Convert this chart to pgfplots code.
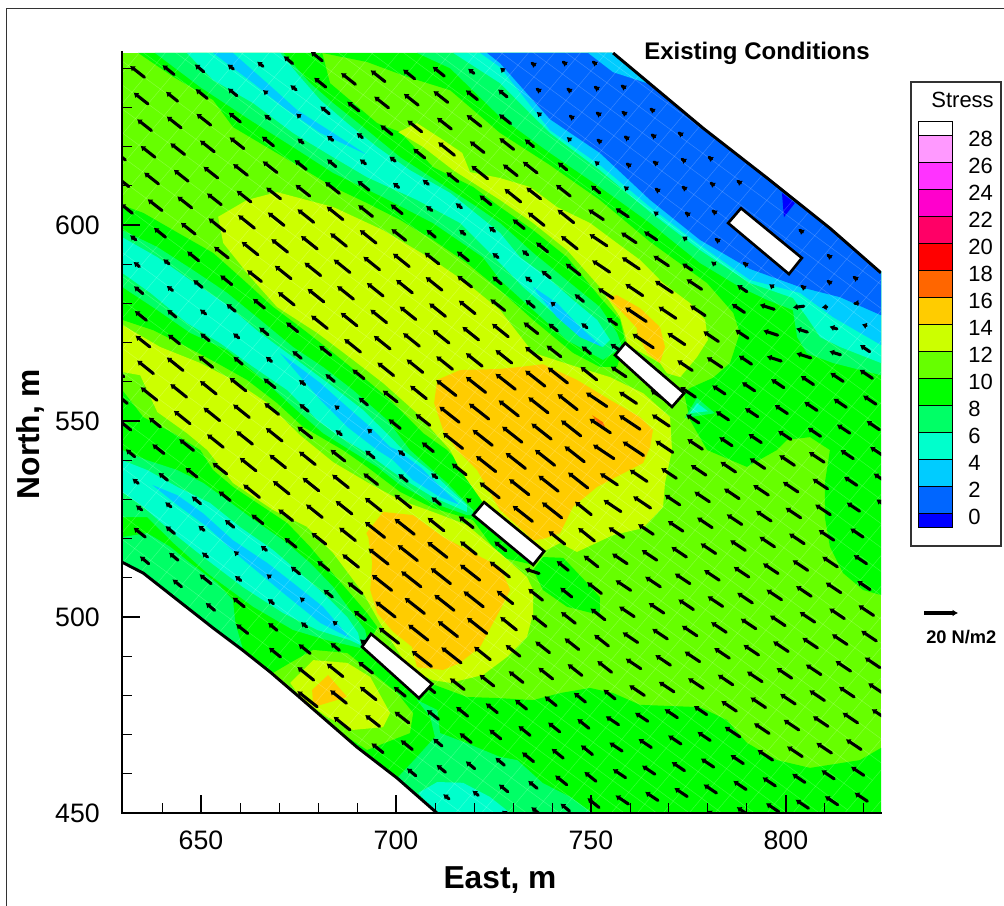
\documentclass[border=0pt]{standalone}
\usepackage{fontspec}
\setmainfont{Liberation Sans}
\usepackage{pgfplots}
\pgfplotsset{compat=1.18}
\usetikzlibrary{arrows.meta}
\definecolor{cA}{HTML}{0000FF}\definecolor{cB}{HTML}{0066FF}\definecolor{cC}{HTML}{00CCFF}
\definecolor{cT}{HTML}{00FFCC}\definecolor{cS}{HTML}{00FF66}\definecolor{cG}{HTML}{00FF00}
\definecolor{cL}{HTML}{66FF00}\definecolor{cY}{HTML}{CCFF00}\definecolor{cO}{HTML}{FFCC00}
\definecolor{cR}{HTML}{FF6600}
\begin{document}
\begin{tikzpicture}
\path[use as bounding box] (-91.5pt,-69.75pt) rectangle (661.5pt,609.75pt);
\draw[line width=0.7pt,black!80] (-87pt,-69.75pt) -- (-87pt,603.75pt) -- (661.5pt,603.75pt);
\begin{axis}[at={(0,0)},anchor=south west,scale only axis,width=569.25pt,height=570pt,
 xmin=629.74,xmax=824.4,ymin=450,ymax=643.9,
 axis lines*=left,axis line style={-},axis on top,
 tick align=inside,xtick={650,700,750,800},ytick={450,500,550,600},
 minor xtick={640,660,670,680,690,710,720,730,740,760,770,780,790,810,820},
 minor ytick={460,470,480,490,510,520,530,540,560,570,580,590,610,620,630,640},
 major tick length=13.5pt,minor tick length=7.5pt,
 major tick style={black,line width=1.6pt},minor tick style={black,line width=0.6pt},
 /pgf/number format/assume math mode=true,
 tick label style={font=\fontsize{20}{24}\selectfont,inner sep=0pt},
 xticklabel style={yshift=-13pt},yticklabel style={xshift=-16.5pt},
]
\addplot[fill=cL,draw=none,forget plot] coordinates {(629.74,643.9)(629.74,450)(824.4,450)(824.4,643.9)} -- cycle;
% valley A
\addplot[fill=cG,draw=none] coordinates {(681.1,643.9)(683.1,636.2)(688.2,631.9)(695.2,626)(701.1,623.7)(709.5,614.8)(719.8,609.7)(726.7,604.6)(735.2,598.7)(743.9,591.8)(752.3,581.6)(757.5,575.8)(758.8,570.2)(756.7,563.8)(752.3,563.8)(745.4,567.4)(735.2,575.8)(726.7,583.4)(718.2,590.3)(709.5,596.2)(701.1,601.3)(692.6,605.6)(683.9,609.7)(671.1,617.4)(658.2,625)(653.1,631.9)(642.9,637.8)(633.9,643.9)} -- cycle;
\addplot[fill=cS,draw=none] coordinates {(671.1,643.9)(678,636.2)(683.9,631.1)(692.6,624.2)(701.1,617.3)(711.3,610.7)(720.8,604.6)(726.7,600.5)(735.2,592.9)(744.7,585.2)(752.3,579.1)(756.7,572.5)(758,568.9)(753.1,565.6)(743.9,570.6)(735.2,578.3)(726.7,586)(722.3,591.8)(709.5,600.5)(696.7,607.1)(683.9,613.3)(673.6,619.9)(662.6,626.8)(649.8,635.2)(638.2,643.9)} -- cycle;
\addplot[fill=cT,draw=none] coordinates {(670.3,643.9)(675.4,637.8)(680.6,631.9)(687.5,626)(695.2,619.9)(703.6,614)(713.9,608.2)(726.7,598)(731.8,591.8)(738.8,586.7)(745.4,580.9)(751.6,575.8)(754.9,570.7)(753.1,568.9)(746.4,572.5)(739.5,578.3)(732.6,584.2)(726.7,590.3)(716.5,600.5)(705.4,606.4)(692.6,612.2)(683.9,617.3)(673.6,623.5)(663.4,631.1)(653.1,637)(646.4,643.9)} -- cycle;
\addplot[fill=cC,draw=none] coordinates {(653.1,643.9)(658.2,643.9)(667,636.2)(674.7,629.3)(683.9,623.5)(692.6,617.9)(680.6,623.5)(671.1,630.1)(663.4,636.2)} -- cycle;
\addplot[fill=cC,draw=none] coordinates {(735.2,584.2)(741.3,580.1)(747.2,574)(752.9,568.9)(747.2,571.4)(741.3,576.5)(736.2,582.7)} -- cycle;
% top-right valley
\addplot[fill=cG,draw=none] coordinates {(681.1,643.9)(692.6,641.6)(702.9,637.8)(713.9,634.4)(726.7,623.5)(739.5,615.3)(752.3,606.4)(765.2,595.7)(779.8,585.2)(786.5,577.6)(788.2,572.5)(785.7,564.8)(781.3,561)(775.4,558.4)(773.9,557.1)(775.4,550.3)(779.8,542.6)(790,538.3)(797.7,542.6)(800.3,545.2)(806.2,545.9)(811.3,542.6)(810,534.2)(810,525.5)(811.3,517.9)(814.7,511.2)(819.8,506.9)(824.4,505.6)(824.4,643.9)} -- cycle;
\addplot[fill=cS,draw=none] coordinates {(705.4,643.9)(713.9,640)(726.7,627.6)(739.5,618.4)(752.3,609.7)(765.2,600.5)(778,590.3)(788.2,584.2)(795.2,580.9)(801.8,578.3)(802.9,571.4)(805.4,567.3)(812.1,564.8)(824.4,561.7)(824.4,643.9)} -- cycle;
\addplot[fill=cT,draw=none] coordinates {(714.7,643.9)(726.7,636.2)(739.5,623.5)(752.3,614)(765.2,603.3)(778,593.6)(790.8,585.2)(801.8,581.4)(805.4,576.5)(808.8,571.4)(813.9,568.9)(824.4,564.8)(824.4,643.9)} -- cycle;
\addplot[fill=cC,draw=none] coordinates {(721.6,643.9)(726.7,640.3)(739.5,624.2)(752.3,615.3)(765.2,604.6)(778,594.9)(790.8,586)(803.6,582.7)(812.1,576.5)(824.4,569.4)(824.4,643.9)} -- cycle;
\addplot[fill=cB,draw=none] coordinates {(723.4,643.9)(726.7,641.3)(739.5,627)(752.3,618.4)(765.2,606.4)(778,596.2)(790.8,588.8)(803.6,584.2)(813.9,581.6)(824.4,577)(824.4,643.9)} -- cycle;
\addplot[fill=cC,draw=none] coordinates {(749.3,643.9)(755.7,643.9)(764.4,636.2)(755.7,639)} -- cycle;
\addplot[fill=cA,draw=none] coordinates {(799,608.2)(802.3,605.6)(799.5,602)} -- cycle;
\addplot[fill=cS,draw=none] coordinates {(774.1,550.8)(777.2,555.9)(781.8,552)} -- cycle;
\addplot[fill=cT,draw=none] coordinates {(775.4,552)(777.2,554.6)(780,552.5)} -- cycle;
% valley B
\addplot[fill=cG,draw=none] coordinates {(629.8,605.1)(635.2,603.1)(642.9,598.7)(653.1,592.9)(660.1,586.7)(668.5,579.1)(675.4,574)(683.9,567.4)(691.6,561.2)(698.5,555.4)(707,546.9)(713.1,542.6)(718.2,537.5)(722.3,530.6)(735.2,513.3)(726.7,515.3)(719.8,524.7)(709.5,527.8)(701.1,531.9)(692.6,538.3)(686.4,542.6)(676.2,548.5)(669.5,554.6)(661.8,560.5)(654.1,564.8)(646.4,568.9)(637.7,573.2)(629.8,575.8)} -- cycle;
\addplot[fill=cS,draw=none] coordinates {(629.8,598.7)(638.8,594.4)(648,588.5)(656.7,582.7)(665.2,575.8)(673.6,568.9)(681.3,563.8)(689,557.9)(697.7,550.3)(703.6,542.6)(713.1,534.2)(719.8,527.3)(719.8,526)(718.2,526)(709.5,529.1)(701.1,533.7)(695.2,538.3)(688.2,542.6)(681.3,546.9)(673.6,553.6)(665.2,561.2)(656.7,568.1)(647.2,572.5)(638.8,578.3)(629.8,584.2)} -- cycle;
\addplot[fill=cT,draw=none] coordinates {(629.8,596.9)(638.8,591.8)(647.2,586)(656.7,579.6)(665.2,572.4)(673.6,566.3)(683.9,558.7)(691.6,552.8)(699.3,545.2)(701.8,542.6)(709.5,536.7)(718.2,528.6)(718.2,526.8)(709.5,530.6)(701.1,535.7)(692.6,541.8)(685.7,545.9)(679.8,550.3)(672.1,557.9)(663.4,563.8)(654.9,569.9)(646.4,575)(637,582.7)(629.8,587.8)} -- cycle;
\addplot[fill=cC,draw=none] coordinates {(670.3,567.3)(676.2,563)(680.6,559.7)(687.5,553.6)(693.4,548.5)(698.5,543.4)(700.3,542.6)(706.2,538.3)(713.1,531.6)(716.4,528.6)(711.3,530.6)(704.4,534.9)(699.3,540)(695.2,542.6)(687.5,548.5)(680.6,555.4)(674.7,562.2)} -- cycle;
\addplot[fill=cG,draw=none] coordinates {(735.2,512)(737.7,515.3)(742.9,515.1)(749,508.7)(752.3,505.1)(752.3,500.5)(743.9,502.6)(737.7,506.9)} -- cycle;
% valley C and lower green
\addplot[fill=cG,draw=none] coordinates {(629.8,557.9)(635.2,551)(642.9,546.9)(649.8,542.6)(653.1,537.5)(658.2,533.2)(665.9,528.1)(672.1,524)(678,517.9)(682.3,512.8)(687.5,506.9)(692.6,501)(695.2,497.5)(694.1,494.9)(709.3,482.9)(718.2,479.6)(726.7,479.3)(735.2,478.8)(742.1,480.6)(749.8,481.9)(755.7,480.6)(762.6,477.6)(778,477)(784.9,473.7)(790,467.9)(797.7,463.5)(806.2,461.5)(819,463.5)(824.4,466.6)(824.4,450)(710.5,450)(700.3,458.9)(690,466.8)(674.6,480.1)(667.7,486)(660.6,491.6)(653.1,497.2)(635.2,511.2)(629.8,514)} -- cycle;
\addplot[fill=cS,draw=none] coordinates {(629.8,520.4)(636.2,521.4)(642.1,517.9)(647.2,513.8)(654.1,508.7)(658.2,504.3)(658.8,498.5)(660.8,491.6)(653.1,497.2)(635.2,511.2)(629.8,514)} -- cycle;
\addplot[fill=cS,draw=none] coordinates {(629.8,542.6)(636.2,540)(643.9,537.5)(650.6,534.2)(656.7,529.8)(664.4,524.2)(671.1,519.6)(678,513.8)(683.9,507.7)(688.2,501.8)(692.1,496.7)(692.6,494.1)(690.8,492.1)(682.3,494.1)(673.6,496.7)(663.4,502.6)(651.6,511.2)(642.9,518.9)(636.2,525.5)(629.8,525.5)} -- cycle;
\addplot[fill=cT,draw=none] coordinates {(629.8,540)(636.2,537.5)(643.9,533.2)(652.3,529.1)(660.1,522.9)(668.5,517.1)(675.4,511.2)(681.3,506.1)(687.5,500)(690.3,495.9)(690.8,493.4)(690.8,492.9)(688.2,494.1)(679.8,496.7)(671.1,501)(660.8,507.6)(650.6,515.3)(642.9,521.4)(635.2,528.1)(629.8,531.9)} -- cycle;
\addplot[fill=cC,draw=none] coordinates {(637.5,533.7)(643.9,531.1)(650.6,526.4)(658.2,519.6)(667,513.8)(673.6,508.7)(681.3,502.6)(688.2,494.6)(680.6,498.5)(671.1,506.1)(660,515.3)(651.6,523)(643.9,528.6)} -- cycle;
\addplot[fill=cS,draw=none] coordinates {(705.4,478.8)(710.6,476.3)(711.3,470.4)(718.2,467.8)(726.7,464.3)(731.1,463.5)(737.7,457.6)(744.7,454.1)(750.3,450)(710.5,450)(700.3,458.9)(705.4,464.3)(710,469.4)(708.8,474.5)} -- cycle;
\addplot[fill=cT,draw=none] coordinates {(705.7,455.1)(710.6,457.9)(717.2,457.7)(724.1,454.1)(729.3,450)(710.5,450)} -- cycle;
% hills
\addplot[fill=cY,draw=none] coordinates {(700.6,623.7)(705.4,626)(712.1,621.7)(717,618.4)(719,613.5)(726.7,612)(734.4,609.7)(741.3,604.6)(749.8,600.5)(756.7,595.4)(762.6,591.1)(768.5,585.2)(775.4,580.1)(779.3,575.8)(780,570.7)(777.2,566.3)(772.9,561.2)(769.5,562.2)(767.7,564.8)(759.5,569.4)(757.5,576.5)(752.3,584.2)(743.9,593.6)(735.2,600.5)(726.7,606.4)(714.7,614)(707,619.9)} -- cycle;
\addplot[fill=cO,draw=none] coordinates {(754.1,581.6)(756.7,582.1)(762.6,578.8)(767.7,574)(769,568.9)(767.7,564.8)(764.4,567.4)(761.8,572.5)(761.8,573.7)(757.5,578.3)} -- cycle;
\addplot[fill=cY,draw=none] coordinates {(654.4,602.1)(661.8,606.4)(669.5,608.4)(683.9,604.6)(696.7,598.7)(709.5,591.1)(718.2,585.2)(726.7,578.3)(735.2,567.4)(746.4,563.8)(754.9,561.2)(763.4,557.1)(770.3,551)(770.8,542.6)(769,534.2)(768.5,528.1)(763.4,522.7)(755.7,520.9)(746.4,516.6)(742.1,518.9)(737.7,516.6)(729.3,522.2)(722.3,529.3)(716.5,537.5)(713.9,542.6)(705.4,552)(696.7,559.7)(689,565.6)(679.8,572.5)(669.5,579.1)(662.6,586.8)(655.7,595.4)} -- cycle;
\addplot[fill=cO,draw=none] coordinates {(710.6,560.5)(716.4,563)(726.7,563.3)(731.8,563.8)(737.7,564.5)(746.4,560.5)(754.9,555.4)(762.6,551)(765.9,547.7)(765.2,543.4)(763.4,539.3)(751.6,533.2)(745.4,528.1)(742.1,521.4)(737.7,519.9)(735.2,519.6)(726.7,527.3)(725.9,528.6)(720.8,537.5)(715.7,542.6)(712.1,547.7)(709.8,554.6)} -- cycle;
\addplot[fill=cR,draw=none] coordinates {(750.3,551.5)(753.1,549.7)(753.6,548.5)(751.8,549.5)} -- cycle;
\addplot[fill=cY,draw=none] coordinates {(629.8,574.5)(639.5,568.9)(649.8,564.8)(658.2,560.5)(667,554.6)(675.4,546.4)(683.9,539.5)(692.6,534.4)(701.1,529.8)(709.5,526.8)(718.2,523.5)(726.7,516.3)(733.6,510.2)(735.2,506.9)(735.2,501)(733.6,494.9)(728.5,489.8)(722.3,485.2)(713.9,483.2)(709.5,483.9)(703.6,486.5)(700.3,491.6)(695.9,498.5)(691.6,506.1)(683.9,516.3)(677.2,523)(668.5,527.3)(658.2,534.2)(651.6,542.6)(646.4,546.9)(638.8,552.3)(634.4,561.7)(629.8,562.5)} -- cycle;
\addplot[fill=cO,draw=none] coordinates {(692.4,521.4)(696.7,526.8)(704.4,526)(712.1,520.4)(719.8,516.3)(726.7,512.8)(729.3,506.9)(726.7,501.8)(721.6,492.4)(716.4,488.3)(712.1,486.5)(705.4,487.2)(704.1,492.4)(699.3,496.2)(695.2,501)(693.4,506.9)(693.9,513.8)(692.9,520.4)} -- cycle;
\addplot[fill=cL,draw=none] coordinates {(668.5,485.7)(672.9,488.3)(678.8,491.6)(687.5,490.8)(695.2,484.7)(700.3,480.6)(704.4,475.5)(703.6,470.4)(692.6,466.1)(687.5,469.4)(674.6,480.1)} -- cycle;
\addplot[fill=cY,draw=none] coordinates {(672.9,483.2)(678.8,489)(687.5,488.3)(693.4,484.7)(698.5,475.5)(696.7,471.9)(689,471.2)(682.3,474.5)(675.4,479.6)} -- cycle;
\addplot[fill=cO,draw=none] coordinates {(678.5,481.4)(682.6,485.2)(687.5,479.6)(678.8,477)} -- cycle;
% faint mesh lines
\pgfplotsinvokeforeach{-21,...,21}{\draw[white,opacity=0.22,line width=0.35pt] ({636.4+#1*3.2-205},{630.9+#1*3.76+150}) -- ({636.4+#1*3.2+205},{630.9+#1*3.76-150});}
\pgfplotsinvokeforeach{-3,...,51}{\draw[white,opacity=0.22,line width=0.35pt] ({636.4+#1*4.1-160},{630.9-#1*3.0-188}) -- ({636.4+#1*4.1+160},{630.9-#1*3.0+188});}
% outside of the domain
\addplot[fill=white,draw=none] coordinates {(625,514)(629.74,514)(635.2,511.2)(653.1,497.2)(660.6,491.6)(667.7,486)(674.6,480.1)(690,466.8)(700.3,458.9)(710.5,450)(716,445)(625,445)} -- cycle;
\addplot[fill=white,draw=none] coordinates {(750,648.6)(755.7,643.9)(778.8,624.7)(795.2,612)(811.3,599.2)(824.4,587.8)(830,583)(830,650)} -- cycle;
% stress vectors
\addplot[black,quiver={u=\thisrow{u},v=\thisrow{v},every arrow/.append style={line width=2.3pt,-{Latex[length=3.5pt,width=5pt]},line cap=round}}] table {
x y u v
635.5 637.7 -3.7 2.9
643.1 638.4 -3 2.4
650.7 639.1 -2.3 1.9
658.3 639.8 -1.5 1.2
665.9 640.5 -1.5 1.2
673.5 641.2 -2.3 1.9
681.1 641.9 -3 2.4
636.4 630.9 -3.7 2.9
644 631.6 -3 2.4
651.6 632.3 -3 2.4
659.2 633 -2.3 1.9
666.8 633.7 -.9 .75
674.4 634.5 -1.5 1.2
682 635.2 -3 2.4
689.6 635.9 -3.7 2.9
697.2 636.6 -3.7 2.9
704.8 637.3 -3 2.4
712.4 638 -3 2.4
720 638.7 -1.5 1.2
727.6 639.4 -.9 .75
734.9 641.3 -.2 .15
742.9 641.6 -.2 .15
750.6 641.6 -.2 .15
637.3 624.1 -3.7 2.9
644.9 624.8 -3.7 2.9
652.5 625.5 -3.7 2.9
660.1 626.3 -3 2.4
667.7 627 -1.5 1.2
675.3 627.7 -.9 .75
682.9 628.4 -2.3 1.9
690.5 629.1 -3 2.4
698.1 629.9 -3.7 2.9
705.7 630.6 -3.7 2.9
713.3 631.3 -3.7 2.9
720.9 632 -3 2.4
728.5 632.7 -2.3 1.9
736.2 634.7 -.2 .15
744.1 634.7 -.2 .15
751.1 635.2 -.2 .15
758 635.5 -.2 .15
630.6 616.6 -3.7 2.9
638.2 617.3 -3.7 2.9
645.8 618 -3.7 2.9
653.4 618.7 -3.7 2.9
661 619.5 -3.7 2.9
668.6 620.2 -3 2.4
676.2 620.9 -1.5 1.2
683.8 621.6 -1.5 1.2
691.4 622.3 -1.5 1.2
699 623.1 -3 2.4
706.6 623.8 -3.7 2.9
714.2 624.5 -3.7 2.9
721.8 625.2 -3.7 2.9
729.4 625.9 -3 2.4
737 628.1 -.9 .75
744.7 627.8 -.2 .15
751.6 628.6 -.2 .15
758.2 628.8 -.2 .15
765.4 629.6 -.2 .15
631.5 609.8 -3.7 2.9
639.1 610.5 -3.7 2.9
646.7 611.2 -3.7 2.9
654.3 612 -3.7 2.9
661.9 612.7 -3.7 2.9
669.5 613.4 -3.7 2.9
677 614.2 -3 2.4
684.6 614.9 -2.3 1.9
692.2 615.6 -1.5 1.2
699.8 616.3 -1.5 1.2
707.4 617.1 -3 2.4
715 617.8 -4.2 3.35
722.6 618.5 -3.7 2.9
730.2 619.3 -3.7 2.9
735.3 620 -2.3 1.9
744.7 621.7 -.9 .75
751.8 621.7 -.2 .15
758.8 622.5 -.2 .15
765.7 623 -.2 .15
772.6 623.5 -.2 .15
632.4 603 -3 2.4
640 603.7 -3.7 2.9
647.6 604.4 -3.7 2.9
655.2 605.2 -3.7 2.9
662.8 605.9 -3.7 2.9
670.4 606.7 -3.7 2.9
677.9 607.4 -3.7 2.9
685.5 608.1 -3.7 2.9
693.1 608.9 -3 2.4
700.7 609.6 -1.5 1.2
708.3 610.4 -1.5 1.2
715.9 611.1 -3 2.4
723.5 611.8 -4.2 3.35
731.1 612.6 -3.7 2.9
736.2 613.3 -3.7 2.9
743.8 614.1 -2.3 1.9
751.8 615.6 -.9 .75
759.3 615.6 -.2 .15
766.2 616.1 -.2 .15
773.4 616.8 -.2 .15
780.3 617.3 -.2 .15
633.3 596.2 -1.5 1.2
640.9 596.9 -3 2.4
648.5 597.7 -3.7 2.9
656.1 598.4 -4.2 3.35
663.7 599.2 -4.2 3.35
671.3 599.9 -4.2 3.35
678.9 600.7 -4.2 3.35
686.4 601.4 -4.2 3.35
694 602.2 -3.7 2.9
701.6 602.9 -3 2.4
709.2 603.7 -1.5 1.2
716.8 604.4 -1.5 1.2
724.4 605.2 -3 2.4
732 605.9 -4.2 3.35
737.1 606.7 -3.7 2.9
744.7 607.4 -3.7 2.9
752.3 608.2 -2.3 1.9
759.3 609.2 -.9 .75
766.7 609.2 -.2 .15
773.6 609.7 -.2 .15
780.8 610.7 -.2 .15
787.7 611.2 -.2 .15
634.2 589.4 -1.5 1.2
641.8 590.1 -1.5 1.2
649.4 590.9 -3 2.4
657 591.6 -3.7 2.9
664.6 592.4 -4.2 3.35
672.2 593.1 -4.2 3.35
679.8 593.9 -4.2 3.35
687.3 594.6 -4.2 3.35
694.9 595.4 -4.2 3.35
702.5 596.1 -3.7 2.9
710.1 596.9 -2.3 1.9
717.7 597.6 -1.5 1.2
725.3 598.4 -1.5 1.2
732.9 599.1 -3 2.4
738 599.9 -4.2 3.35
745.6 600.6 -4.2 3.35
753.2 601.4 -3.9 2.6
759.6 602.1 -3.3 2.2
767 602.8 -1 .7
774.4 603.1 -.2 .15
781.3 603.6 -.2 .15
635.1 582.5 -2.3 1.9
642.7 583.3 -1.5 1.2
650.3 584.1 -2.3 1.9
657.9 584.8 -3 2.4
665.5 585.6 -3.7 2.9
673.1 586.3 -4.2 3.35
680.7 587.1 -4.2 3.35
688.2 587.9 -4.2 3.35
695.8 588.6 -4.2 3.35
703.4 589.4 -4.2 3.35
711 590.1 -3.7 2.9
718.6 590.9 -3 2.4
726.2 591.7 -1.5 1.2
733.8 592.4 -1.5 1.2
738.9 593.2 -3 2.4
746.5 593.9 -4.2 3.35
754.1 594.7 -4.5 3
761.6 595.5 -3.9 2.6
766.9 596.2 -3.3 2.2
774.4 596.4 -1 .7
782.1 596.4 -.2 .15
803.6 598.7 -.2 .15
636 575.7 -3 2.4
643.6 576.5 -2.3 1.9
651.2 577.3 -1.5 1.2
658.8 578 -2.3 1.9
666.3 578.8 -3 2.4
673.9 579.6 -4.2 3.35
681.5 580.4 -4.2 3.35
689.1 581.1 -4.2 3.35
696.7 581.9 -4.2 3.35
704.2 582.7 -4.2 3.35
711.8 583.4 -4.2 3.35
719.4 584.2 -3.7 2.9
727 585 -2.3 1.9
734.6 585.7 -1.5 1.2
739.6 586.5 -2.3 1.9
747.2 587.3 -3.7 2.9
754.8 588 -4.5 3
762.4 588.8 -4.5 3
769.9 589.6 -3.9 2.6
775.9 588.5 -2.5 1.7
781.8 590 -1 .7
789.3 590.3 -.2 .15
810.8 592.3 -.2 .15
636.9 568.9 -3.7 2.9
644.5 569.7 -3 2.4
652.1 570.5 -2.3 1.9
659.7 571.2 -1.5 1.2
667.2 572 -2.3 1.9
674.8 572.8 -3 2.4
682.4 573.6 -4.2 3.35
690 574.3 -4.2 3.35
697.6 575.1 -4.2 3.35
705.1 575.9 -4.2 3.35
712.7 576.7 -4.2 3.35
720.3 577.4 -4.2 3.35
727.9 578.2 -3.7 2.9
735.5 579 -2.3 1.9
740.5 579.7 -.9 .75
748.1 580.5 -2.3 1.9
755.7 581.3 -3.9 2.6
763.3 582 -4.5 3
770.9 582.8 -4.5 3
778.4 583.6 -3.9 2.6
790 583 -2.5 1.7
796.7 584.2 -1 .7
804.1 584.4 -.2 .15
810.8 585.7 -.2 .15
817.5 586.7 -.2 .15
630.2 561.3 -3.7 2.9
637.8 562.1 -4.2 3.35
645.4 562.9 -4.2 3.35
653 563.7 -3.7 2.9
660.6 564.5 -2.3 1.9
668.1 565.2 -1.5 1.2
675.7 566 -2.3 1.9
683.3 566.8 -3 2.4
690.9 567.6 -4.2 3.35
698.5 568.4 -4.2 3.35
706 569.1 -4.2 3.35
713.6 569.9 -4.2 3.35
721.2 570.7 -4.2 3.35
728.8 571.5 -4.2 3.35
736.4 572.3 -3.7 2.9
741.4 573 -2.3 1.9
749 573.8 -1.5 1.2
756.6 574.6 -2.5 1.7
764.2 575.4 -5.4 3.6
771.8 576.2 -4.5 3
779.3 576.9 -3.9 2.6
789.4 577.7 -3.3 2.2
797 578.5 -3.7 1.2
804.6 579.3 -2.8 -.35
810.5 579.1 -1.3 -.1
817.7 580.1 -.3 0
631.1 554.5 -3 2.4
638.7 555.3 -4.2 3.35
646.3 556.1 -4.2 3.35
653.9 556.9 -4.2 3.35
661.5 557.7 -4.2 3.35
669 558.5 -3 2.4
676.6 559.3 -1.5 1.2
684.2 560.1 -2.3 1.9
691.8 560.8 -3 2.4
699.4 561.6 -4.2 3.35
706.9 562.4 -4.2 3.35
714.5 563.2 -4.2 3.35
722.1 564 -4.2 3.35
729.7 564.8 -4.2 3.35
737.3 565.6 -4.2 3.35
742.3 566.4 -3.7 2.9
749.9 567.2 -2.3 1.9
757.5 568 -2.5 1.7
766 568.7 -5.4 3.6
774.1 569.5 -4.5 3
782.7 570.3 -3.9 2.6
790.3 571.1 -3.3 2.2
797.9 571.9 -3.7 1.2
805.5 572.7 -2.85 .9
813.1 573.5 -1.9 .6
820.6 574.3 -1.1 .35
632 547.7 -3 2.4
639.6 548.5 -3 2.4
647.2 549.3 -4.2 3.35
654.8 550.1 -4.2 3.35
662.4 550.9 -4.2 3.35
669.9 551.7 -3.7 2.9
677.5 552.5 -2.3 1.9
685.1 553.3 -.9 .75
692.7 554.1 -2.3 1.9
700.3 554.9 -3.7 2.9
707.8 555.7 -4.2 3.35
715.4 556.5 -5.1 4
723 557.3 -5.1 4
730.6 558.1 -5.1 4
738.2 558.9 -5.1 4
744 559.7 -5.1 4
751.5 560.5 -4.2 3.35
759 561.3 -3.9 2.6
768 562.1 -4.5 3
776 562.9 -3.9 2.6
783.6 563.7 -3.9 2.6
791.2 564.5 -3.3 2.2
798.8 565.3 -3.7 1.2
806.4 566.1 -3.7 1.2
814 566.9 -2.85 .9
821.5 567.7 -2.5 1.7
633 540.9 -2.3 1.9
640.5 541.7 -3 2.4
648.1 542.5 -3.7 2.9
655.7 543.3 -4.2 3.35
663.2 544.1 -4.2 3.35
670.8 544.9 -4.2 3.35
678.4 545.7 -3.7 2.9
686 546.5 -1.5 1.2
693.5 547.3 -.9 .75
701.1 548.1 -3 2.4
708.7 548.9 -3.7 2.9
716.2 549.7 -5.1 4
723.8 550.5 -5.1 4
731.4 551.3 -5.1 4
739 552.1 -5.1 4
746.5 552.9 -5.1 4
754.1 553.7 -5.4 3.6
761.7 554.5 -4.5 3
769.2 555.3 -3.9 2.6
776.8 556.1 -3.9 2.6
784.4 556.9 -3.3 2.2
792 557.7 -3.3 2.2
799.5 558.5 -3.3 2.2
807.1 559.3 -3.3 2.2
814.7 560.1 -3.3 2.2
822.2 560.9 -3.3 2.2
633.9 534.1 -1.5 1.2
641.4 534.9 -2.3 1.9
649 535.7 -3 2.4
656.6 536.5 -3.7 2.9
664.1 537.3 -4.2 3.35
671.7 538.1 -4.2 3.35
679.3 538.9 -4.2 3.35
686.9 539.8 -3.7 2.9
694.4 540.6 -2.3 1.9
702 541.4 -1.5 1.2
709.6 542.2 -3 2.4
717.1 543 -5.1 4
724.7 543.8 -5.1 4
732.3 544.6 -5.1 4
739.8 545.4 -5.1 4
747.4 546.2 -5.1 4
755 547 -5.4 3.6
762.6 547.9 -5.4 3.6
770.1 548.7 -4.5 3
777.7 549.5 -3.3 2.2
785.3 550.3 -3.3 2.2
792.8 551.1 -3.3 2.2
800.4 551.9 -3.3 2.2
808 552.7 -3.3 2.2
815.5 553.5 -3.3 2.2
823.1 554.3 -3.3 2.2
634.8 527.3 -1.5 1.2
642.3 528.1 -1.5 1.2
649.9 528.9 -2.3 1.9
657.5 529.7 -3 2.4
665 530.5 -4.2 3.35
672.6 531.4 -4.2 3.35
680.2 532.2 -4.2 3.35
687.8 533 -4.2 3.35
695.3 533.8 -3.7 2.9
702.9 534.6 -2.3 1.9
710.5 535.5 -1.5 1.2
718 536.3 -3.7 2.9
725.6 537.1 -5.1 4
733.2 537.9 -5.1 4
740.7 538.7 -5.1 4
748.3 539.6 -5.1 4
755.9 540.4 -5.4 3.6
763.5 541.2 -5.4 3.6
771 542 -4.5 3
778.6 542.8 -3.9 2.6
786.2 543.7 -3.3 2.2
793.7 544.5 -3.3 2.2
801.3 545.3 -3.3 2.2
808.9 546.1 -3.3 2.2
816.4 546.9 -3.3 2.2
824 547.8 -3.3 2.2
635.7 520.4 -3 2.4
643.2 521.3 -2.3 1.9
650.8 522.1 -1.5 1.2
658.4 522.9 -2.3 1.9
665.9 523.8 -3 2.4
673.5 524.6 -3.7 2.9
681.1 525.4 -4.2 3.35
688.7 526.3 -4.2 3.35
696.2 527.1 -4.2 3.35
703.8 527.9 -4.2 3.35
711.4 528.7 -2.3 1.9
718.9 529.6 -.9 .75
726.5 530.4 -5.1 4
734.1 531.2 -5.1 4
741.6 532.1 -5.1 4
749.2 532.9 -5.1 4
756.8 533.7 -4.5 3
764.4 534.6 -4.5 3
771.9 535.4 -3.9 2.6
779.5 536.2 -3.9 2.6
787.1 537 -3.9 2.6
794.6 537.9 -3.9 2.6
802.2 538.7 -3.9 2.6
809.8 539.5 -3.9 2.6
817.3 540.4 -3.3 2.2
824.9 541.2 -3.3 2.2
636.6 513.6 -2.3 1.9
644.1 514.5 -2.3 1.9
651.7 515.3 -1.5 1.2
659.3 516.1 -.9 .75
666.8 517 -1.5 1.2
674.4 517.8 -3 2.4
682 518.6 -3.7 2.9
689.6 519.5 -4.2 3.35
697.1 520.3 -5.1 4
704.7 521.1 -5.1 4
712.3 522 -4.2 3.35
719.8 522.8 -3.7 2.9
727.4 523.6 -3 2.4
735 524.4 -5.1 4
742.5 525.3 -5.1 4
750.1 526.1 -4.2 3.35
757.7 526.9 -4.5 3
765.3 527.8 -4.5 3
772.8 528.6 -3.9 2.6
780.4 529.4 -3.9 2.6
788 530.2 -3.9 2.6
795.5 531.1 -3.9 2.6
803.1 531.9 -3.9 2.6
810.7 532.7 -3.9 2.6
818.2 533.6 -3.3 2.2
825.8 534.4 -3.3 2.2
645 507.7 -2.3 1.9
652.6 508.5 -3 2.4
660.2 509.3 -1.5 1.2
667.7 510.2 -.9 .75
675.3 511 -2.3 1.9
682.8 511.9 -3 2.4
690.4 512.7 -4.2 3.35
698 513.5 -5.1 4
705.5 514.4 -5.1 4
713.1 515.2 -5.1 4
720.6 516 -4.2 3.35
728.2 516.9 -3 2.4
735.8 517.7 -3 2.4
743.3 518.6 -4.2 3.35
750.9 519.4 -4.2 3.35
758.4 520.3 -3.9 2.6
766 521.1 -3.9 2.6
773.6 521.9 -3.9 2.6
781.1 522.8 -3.9 2.6
788.7 523.6 -3.9 2.6
796.2 524.5 -3.9 2.6
803.8 525.3 -3.9 2.6
811.4 526.1 -3.9 2.6
818.9 527 -3.3 2.2
826.5 527.8 -3.3 2.2
653.5 501.7 -2.3 1.9
661.1 502.6 -3 2.4
668.6 503.4 -1.5 1.2
676.2 504.3 -.9 .75
683.7 505.1 -2.3 1.9
691.3 506 -3.7 2.9
698.9 506.8 -5.1 4
706.4 507.7 -5.1 4
714 508.5 -5.1 4
721.5 509.4 -5.1 4
729.1 510.2 -5.1 4
736.7 511.1 -3.7 1.2
744.2 511.9 -3 2.4
751.8 512.8 -3.7 2.9
759.3 513.6 -3.9 2.6
766.9 514.5 -3.9 2.6
774.5 515.3 -3.9 2.6
782 516.2 -3.9 2.6
789.6 517 -3.9 2.6
797.1 517.9 -3.9 2.6
804.7 518.7 -3.9 2.6
812.3 519.6 -3.9 2.6
819.8 520.4 -3.3 2.2
662 495.8 -3 2.4
669.5 496.6 -2.3 1.9
677.1 497.5 -1.5 1.2
684.6 498.3 -.9 .75
692.2 499.2 -3 2.4
699.8 500 -5.1 4
707.3 500.9 -5.1 4
714.9 501.7 -5.1 4
722.4 502.6 -5.1 4
730 503.4 -4.2 3.35
737.6 504.3 -3.7 2.9
745.1 505.1 -3 2.4
752.7 506 -3.7 2.9
760.2 506.8 -3.9 2.6
767.8 507.7 -3.9 2.6
775.4 508.5 -3.9 2.6
782.9 509.4 -3.9 2.6
790.5 510.2 -3.9 2.6
798 511.1 -3.9 2.6
805.6 511.9 -3.9 2.6
813.2 512.8 -3.9 2.6
820.7 513.6 -3.3 2.2
670.4 489.8 -3 2.4
678 490.7 -3 2.4
685.5 491.5 -2.3 1.9
693.1 492.4 -2.3 1.9
700.7 493.3 -5.1 4
708.2 494.1 -5.1 4
715.8 495 -5.1 4
723.3 495.8 -5.1 4
730.9 496.7 -4.2 3.35
738.5 497.6 -3.7 2.9
746 498.4 -3.7 2.9
753.6 499.3 -3.7 2.9
761.1 500.1 -3.9 2.6
768.7 501 -3.9 2.6
776.3 501.9 -3.9 2.6
783.8 502.7 -3.9 2.6
791.4 503.6 -3.9 2.6
798.9 504.4 -3.9 2.6
806.5 505.3 -3.9 2.6
814.1 506.2 -3.9 2.6
821.6 507 -3.3 2.2
678.9 483.9 -4.2 3.35
686.4 484.8 -4.2 3.35
694 485.7 -3.7 2.9
701.6 486.5 -4.2 3.35
709.1 487.4 -5.1 4
716.7 488.3 -5.1 4
724.2 489.1 -4.2 3.35
731.8 490 -3.7 2.9
739.4 490.9 -3.7 2.9
746.9 491.7 -3.7 2.9
754.5 492.6 -3.7 2.9
762 493.5 -3.9 2.6
769.6 494.4 -3.9 2.6
777.2 495.2 -3.9 2.6
784.7 496.1 -3.9 2.6
792.3 497 -3.9 2.6
799.8 497.8 -3.9 2.6
807.4 498.7 -3.9 2.6
815 499.6 -3.9 2.6
822.5 500.4 -3.9 2.6
679.8 477.1 -5.1 4
687.3 478 -4.2 3.35
694.9 478.9 -4.2 3.35
702.4 479.8 -3 2.4
710 480.7 -3 2.4
717.5 481.5 -3.7 2.9
725.1 482.4 -3.7 2.9
732.6 483.3 -3.7 2.9
740.2 484.2 -3.7 2.9
747.7 485.1 -3.7 2.9
755.3 485.9 -3.7 2.9
762.8 486.8 -3.9 2.6
770.4 487.7 -3.9 2.6
777.9 488.6 -3.9 2.6
785.5 489.5 -3.9 2.6
793 490.3 -3.9 2.6
800.6 491.2 -3.9 2.6
808.1 492.1 -3.9 2.6
815.7 493 -3.9 2.6
823.2 493.9 -3.9 2.6
688.2 471.2 -4.2 3.35
695.8 472.1 -3.7 2.9
703.3 473 -3.7 2.9
710.9 473.9 -3 2.4
718.4 474.7 -3 2.4
726 475.6 -3 2.4
733.5 476.5 -3 2.4
741.1 477.4 -3 2.4
748.6 478.3 -3 2.4
756.2 479.1 -3 2.4
763.7 480 -3.9 2.6
771.3 480.9 -3.9 2.6
778.8 481.8 -3.9 2.6
786.4 482.7 -3.9 2.6
793.9 483.5 -3.9 2.6
801.5 484.4 -3.9 2.6
809 485.3 -3.9 2.6
816.6 486.2 -3.9 2.6
824.1 487.1 -3.9 2.6
696.7 465.4 -3 2.4
704.2 466.2 -3 2.4
711.8 467.1 -2.3 1.9
719.3 468 -3 2.4
726.9 468.9 -3 2.4
734.4 469.8 -3 2.4
742 470.7 -3 2.4
749.5 471.6 -3 2.4
757.1 472.5 -3.3 2.2
764.6 473.4 -3.3 2.2
772.2 474.3 -3.3 2.2
779.7 475.1 -3.3 2.2
787.3 476 -3.9 2.6
794.8 476.9 -3.9 2.6
802.4 477.8 -3.9 2.6
809.9 478.7 -3.9 2.6
817.5 479.6 -3.9 2.6
825 480.5 -3.9 2.6
705.1 459.5 -2.3 1.9
712.7 460.4 -2.3 1.9
720.2 461.3 -2.3 1.9
727.8 462.2 -2.3 1.9
735.3 463.1 -3 2.4
742.9 464 -3 2.4
750.4 464.9 -3 2.4
758 465.8 -3.3 2.2
765.5 466.7 -3.3 2.2
773.1 467.6 -3.3 2.2
780.6 468.5 -3.3 2.2
788.2 469.4 -3.9 2.6
795.7 470.3 -3.9 2.6
803.3 471.2 -3.9 2.6
810.8 472.1 -3.9 2.6
818.4 473 -3.9 2.6
825.9 473.9 -3.9 2.6
713.6 453.6 -1.5 1.2
721.1 454.5 -1.5 1.2
728.7 455.4 -2.3 1.9
736.2 456.3 -2.3 1.9
743.8 457.2 -3 2.4
751.3 458.1 -3 2.4
758.9 459 -3.3 2.2
766.4 459.9 -3.3 2.2
774 460.8 -3.3 2.2
781.5 461.7 -3.3 2.2
789.1 462.6 -3.3 2.2
796.6 463.5 -3.9 2.6
804.2 464.4 -3.9 2.6
811.7 465.3 -3.9 2.6
819.3 466.2 -3.9 2.6
721.9 447.8 -1.5 1.2
729.5 448.7 -2.3 1.9
737 449.6 -2.3 1.9
744.5 450.5 -2.3 1.9
752.1 451.4 -3 2.4
759.6 452.3 -3.3 2.2
767.2 453.2 -3.3 2.2
774.7 454.2 -3.3 2.2
782.2 455.1 -3.3 2.2
789.8 456 -3.3 2.2
797.3 456.9 -3.3 2.2
804.9 457.8 -3.3 2.2
812.4 458.7 -3.3 2.2
820 459.6 -3.3 2.2
760.5 445.7 -3.3 2.2
768.1 446.6 -3.3 2.2
775.6 447.5 -3.3 2.2
783.1 448.4 -3.3 2.2
790.7 449.3 -3.3 2.2
798.2 450.3 -3.3 2.2
805.8 451.2 -3.3 2.2
813.3 452.1 -3.3 2.2
820.9 453 -3.3 2.2
814.2 445.5 -3.3 2.2
821.7 446.4 -3.3 2.2
};
% structures
\addplot[fill=white,draw=black,line width=2pt] coordinates {(691.3,492.4)(693.6,495.7)(709.3,482.9)(705.9,479.3)} -- cycle;
\addplot[fill=white,draw=black,line width=2pt] coordinates {(719.8,526)(722.6,529.3)(738,516.8)(735.2,513.3)} -- cycle;
\addplot[fill=white,draw=black,line width=2pt] coordinates {(756.2,566.8)(758.8,569.9)(773.9,557.1)(770.8,553.6)} -- cycle;
\addplot[fill=white,draw=black,line width=2pt] coordinates {(785.2,600.5)(788.5,604.3)(804.1,591.6)(800.8,587.5)} -- cycle;
% domain boundary
\addplot[black,line width=2.2pt] coordinates {(629.74,514)(635.2,511.2)(653.1,497.2)(660.6,491.6)(667.7,486)(674.6,480.1)(690,466.8)(700.3,458.9)(710.5,450)};
\addplot[black,line width=2.2pt] coordinates {(755.7,643.9)(778.8,624.7)(795.2,612)(811.3,599.2)(824.4,587.8)};
\end{axis}
\begin{scope}[shift={(-91.5pt,609.75pt)},x=0.75pt,y=-0.75pt]
\fill[white] (880.8,45) rectangle (890,271);
\fill[white] (622,45) rectangle (890,52.6);
\draw[black,line width=2.1pt] (122,51) -- (122,813) -- (882,813);
\node[anchor=west,inner sep=0pt,font=\fontsize{18}{22}\selectfont\bfseries] at (644,53) {Existing Conditions};
\node[font=\fontsize{23.8}{28}\selectfont\bfseries,inner sep=0pt] at (500,880) {East, m};
\node[font=\fontsize{23.8}{28}\selectfont\bfseries,inner sep=0pt,rotate=90] at (30,434) {North, m};
\draw[black!80,line width=0.8pt,fill=white] (911,82) rectangle (1001,546);
\node[anchor=east,inner sep=0pt,font=\fontsize{16.5}{20}\selectfont] at (994,100) {Stress};
\foreach \a/\b/\c in {121/135/white,135/162/{rgb,255:red,255;green,153;blue,255},162/189/{rgb,255:red,255;green,51;blue,255},189/216/{rgb,255:red,255;green,0;blue,204},216/243/{rgb,255:red,255;green,0;blue,102},243/270/red,270/297/cR,297/324/cO,324/351/cY,351/378/cL,378/405/cG,405/432/cS,432/459/cT,459/486/cC,486/513/cB,513/527/cA}{
 \fill[fill=\c] (918,\a) rectangle (952,\b);
 \draw[black,line width=0.5pt] (918,\a) rectangle (952,\b);}
\foreach \t/\y in {28/139,26/166,24/193,22/220,20/247,18/274,16/301,14/328,12/355,10/382,8/409,6/436,4/463,2/490,0/517}{
 \node[anchor=west,inner sep=0pt,font=\fontsize{16.5}{20}\selectfont] at (968,\y) {\t};}
\draw[black,line width=2.3pt,-{Latex[length=4pt,width=5pt]}] (924,613) -- (958,613);
\node[anchor=west,inner sep=0pt,font=\fontsize{13.7}{16}\selectfont\bfseries] at (926,637) {20 N/m2};
\end{scope}
\end{tikzpicture}
\end{document}
